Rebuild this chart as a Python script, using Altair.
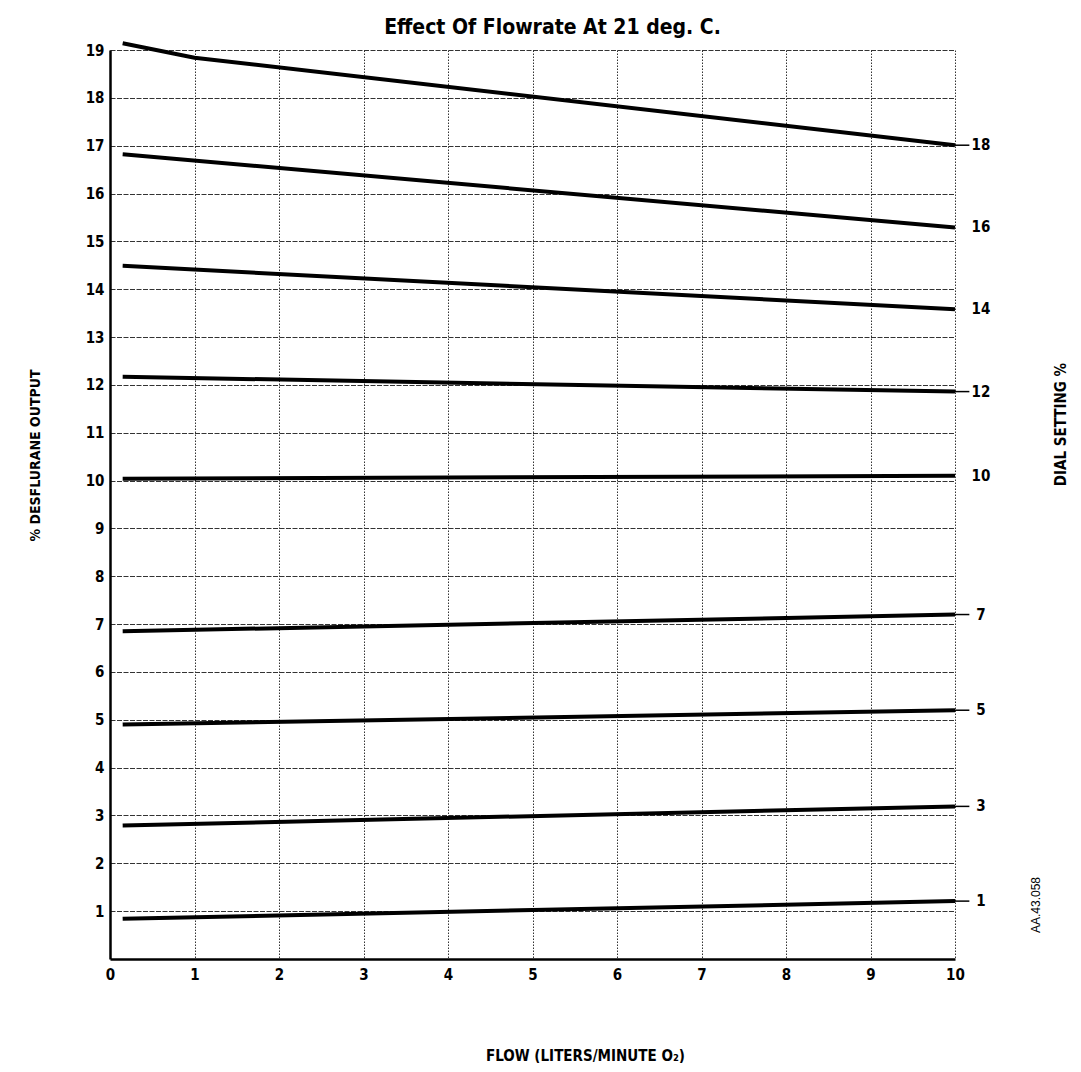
import altair as alt
import pandas as pd

# ---- data ----
dial_settings = [18, 16, 14, 12, 10, 7, 5, 3, 1]

flow_18 = [0.15, 1.0, 10.0]
output_18 = [19.14, 18.84, 17.01]

flow_other = [0.15, 10.0]
output_16 = [16.82, 15.29]
output_14 = [14.49, 13.58]
output_12 = [12.17, 11.86]
output_10 = [10.04, 10.10]
output_7 = [6.85, 7.20]
output_5 = [4.90, 5.20]
output_3 = [2.79, 3.19]
output_1 = [0.84, 1.21]

has_leader = [True, False, False, True, False, True, True, True, True]

x_ticks = [0, 1, 2, 3, 4, 5, 6, 7, 8, 9, 10]
y_ticks = [1, 2, 3, 4, 5, 6, 7, 8, 9, 10, 11, 12, 13, 14, 15, 16, 17, 18, 19]

series = {
    18: (flow_18, output_18),
    16: (flow_other, output_16),
    14: (flow_other, output_14),
    12: (flow_other, output_12),
    10: (flow_other, output_10),
    7: (flow_other, output_7),
    5: (flow_other, output_5),
    3: (flow_other, output_3),
    1: (flow_other, output_1),
}

rows = []
for d in dial_settings:
    fl, out = series[d]
    for f, o in zip(fl, out):
        rows.append({"dial": d, "flow": f, "output": o})
lines_df = pd.DataFrame(rows)

end_rows = []
for d, lead in zip(dial_settings, has_leader):
    fl, out = series[d]
    end_rows.append({"dial": d, "label": str(d), "flow": fl[-1], "output": out[-1], "leader": lead})
ends_df = pd.DataFrame(end_rows)

BOLD = "DejaVu Sans Condensed, Liberation Sans Narrow, sans-serif"

xscale = alt.Scale(domain=[0, 10], nice=False, zero=False)
yscale = alt.Scale(domain=[0, 19], nice=False, zero=False)

x_axis = alt.Axis(
    values=x_ticks, format="d", ticks=False, domainColor="black", domainWidth=2.5,
    labelFont=BOLD, labelFontSize=15, labelFontWeight="bold", labelColor="black",
    labelPadding=8, labelFlush=False,
    grid=True, gridColor="#333333", gridDash=[1.5, 1.5], gridWidth=1, gridOpacity=1,
    title="FLOW (LITERS/MINUTE O₂)", titleFont=BOLD, titleFontSize=15, titleFontWeight="bold",
    titleColor="black", titleX=475, titleY=96, titleAnchor="middle", titleBaseline="middle",
)
y_axis = alt.Axis(
    values=y_ticks, format="d", ticks=False, domainColor="black", domainWidth=2.5,
    labelFont=BOLD, labelFontSize=15, labelFontWeight="bold", labelColor="black",
    labelPadding=6, labelFlush=False,
    grid=True, gridColor="#333333", gridDash=[5, 1.5], gridWidth=1, gridOpacity=1,
    title="% DESFLURANE OUTPUT", titleFont=BOLD, titleFontSize=14, titleFontWeight="bold",
    titleColor="black", titleX=-75, titleY=405, titleAngle=270,
    titleAlign="center", titleBaseline="middle",
)

lines = alt.Chart(lines_df).mark_line(color="black", strokeWidth=4, strokeCap="butt").encode(
    x=alt.X("flow:Q", scale=xscale, axis=x_axis),
    y=alt.Y("output:Q", scale=yscale, axis=y_axis),
    detail="dial:N",
    order="flow:Q",
)

leaders = alt.Chart(ends_df).transform_filter("datum.leader").mark_rule(
    color="black", strokeWidth=1.5
).encode(
    x=alt.X("flow:Q", scale=xscale),
    x2=alt.datum(10.17),
    y=alt.Y("output:Q", scale=yscale, axis=None),
)

labels = alt.Chart(ends_df).mark_text(
    align="center", baseline="middle", dx=26, font=BOLD, fontSize=15, fontWeight="bold", color="black"
).encode(
    x=alt.X("flow:Q", scale=xscale),
    y=alt.Y("output:Q", scale=yscale, axis=alt.Axis(
        orient="right", labels=False, ticks=False, domain=False, grid=False,
        title="DIAL SETTING %", titleFont=BOLD, titleFontSize=15, titleFontWeight="bold",
        titleColor="black", titleX=105, titleY=374, titleAngle=270,
        titleAlign="center", titleBaseline="middle",
    )),
    text="label:N",
)

stamp = alt.Chart(pd.DataFrame({"t": ["AA.43.058"]})).mark_text(
    angle=270, font="Liberation Sans, Arial, sans-serif", fontSize=12, color="black",
    align="center", baseline="middle",
).encode(x=alt.value(926), y=alt.value(855), text="t:N")

chart = alt.layer(lines, leaders, labels, stamp).resolve_axis(y="independent").properties(
    width=845,
    height=909,
    autosize=alt.AutoSizeParams(type="none"),
    padding={"left": 102, "top": 42, "right": 118, "bottom": 104},
    title=alt.TitleParams(
        "Effect Of Flowrate At 21 deg. C.", font=BOLD, fontSize=21, fontWeight="bold",
        color="black", anchor="middle", dx=20, dy=15, offset=12,
    ),
    background="white",
).configure_view(stroke=None)

chart.save("out.html", embed_options={"renderer": "svg", "actions": False})
